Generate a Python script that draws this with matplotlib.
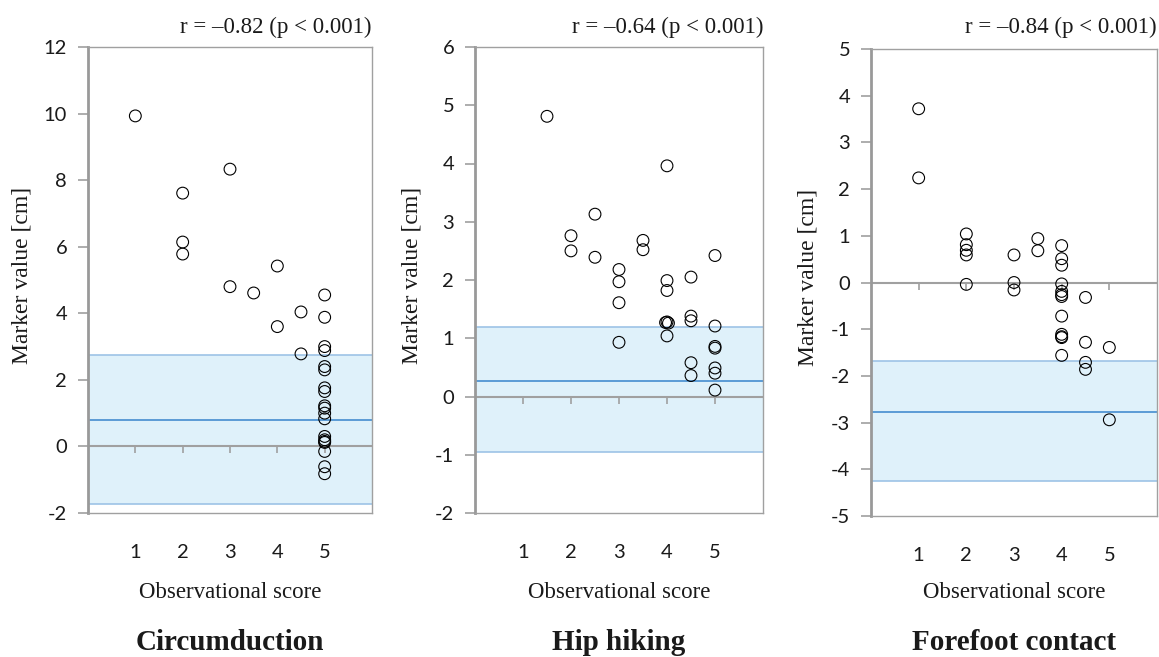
import matplotlib
matplotlib.use("Agg")
import matplotlib.pyplot as plt

# ---------------- data ----------------
titles = ["Circumduction", "Hip hiking", "Forefoot contact"]
r_texts = ["r = \u20130.82 (p < 0.001)", "r = \u20130.64 (p < 0.001)", "r = \u20130.84 (p < 0.001)"]

circ_x = [1, 2, 2, 2, 3, 3, 3.5, 4, 4, 4.5, 4.5,
          5, 5, 5, 5, 5, 5, 5, 5, 5, 5, 5, 5, 5, 5, 5, 5, 5, 5, 5]
circ_y = [9.93, 7.61, 6.14, 5.78, 8.33, 4.80, 4.61, 5.42, 3.60, 4.04, 2.78,
          4.55, 3.88, 3.00, 2.88, 2.40, 2.30, 1.76, 1.65, 1.22, 1.15, 1.00, 0.83,
          0.30, 0.20, 0.15, 0.12, -0.15, -0.61, -0.82]

hip_x = [1.5, 2, 2, 2.5, 2.5, 3, 3, 3, 3, 3.5, 3.5,
         4, 4, 4, 3.97, 4, 4.03, 4, 4.5, 4.5, 4.5, 4.5, 4.5,
         5, 5, 5, 5, 5, 5, 5]
hip_y = [4.81, 2.76, 2.50, 3.13, 2.39, 2.18, 1.97, 1.61, 0.93, 2.68, 2.52,
         3.96, 1.99, 1.82, 1.27, 1.28, 1.26, 1.04, 2.05, 1.38, 1.30, 0.58, 0.36,
         2.42, 1.21, 0.86, 0.83, 0.49, 0.40, 0.11]

fore_x = [1, 1, 2, 2, 2, 2, 2, 3, 3, 3, 3.5, 3.5,
          4, 4, 4, 4, 4, 4, 4, 4, 4, 4, 4, 4,
          4.5, 4.5, 4.5, 4.5, 5, 5]
fore_y = [3.72, 2.24, 1.04, 0.81, 0.69, 0.59, -0.04, 0.59, 0.00, -0.16, 0.94, 0.68,
          0.79, 0.51, 0.37, -0.03, -0.19, -0.26, -0.30, -0.72, -1.11, -1.16, -1.18, -1.56,
          -0.32, -1.28, -1.71, -1.86, -1.39, -2.94]

means = [0.78, 0.26, -2.78]
upper = [2.74, 1.20, -1.69]
lower = [-1.72, -0.96, -4.26]

y_limits = [(-2, 12), (-2, 6), (-5, 5)]
y_steps = [2, 1, 1]
x_ticks = [1, 2, 3, 4, 5]

xs = [circ_x, hip_x, fore_x]
ys = [circ_y, hip_y, fore_y]

# ---------------- style ----------------
SERIF = ["Liberation Serif", "DejaVu Serif"]
SANS = ["Lato", "DejaVu Sans"]
GRAY = "#a0a0a0"
FILL = "#dff1fa"
EDGE = "#9dc3e6"
MEAN = "#5b9bd5"
TXT = "#1a1a1a"

W, H = 1159, 657
fig = plt.figure(figsize=(W / 100, H / 100), dpi=100)

# axes boxes in pixels: left, right, top, bottom
boxes = [(88, 372, 47, 513), (475, 763, 47, 513), (871, 1157, 49, 516)]
ylabel_x = [-0.197, -0.184, -0.184]

for i in range(3):
    l, r, t, b = boxes[i]
    ax = fig.add_axes((l / W, 1 - b / H, (r - l) / W, (b - t) / H))
    y0, y1 = y_limits[i]
    ax.set_xlim(0, 6)
    ax.set_ylim(y0, y1)

    # band
    ax.axhspan(lower[i], upper[i], facecolor=FILL, edgecolor="none", zorder=0)
    ax.axhline(upper[i], color=EDGE, lw=1.2, zorder=1)
    ax.axhline(lower[i], color=EDGE, lw=1.2, zorder=1)
    ax.axhline(means[i], color=MEAN, lw=1.4, zorder=2)
    ax.axhline(0, color=GRAY, lw=1.5, zorder=2)

    ax.scatter(xs[i], ys[i], s=72, facecolors="none", edgecolors="black",
               linewidths=0.8, zorder=4)

    # spines
    for side in ["top", "right", "bottom"]:
        ax.spines[side].set_color(GRAY)
        ax.spines[side].set_linewidth(1.0)
    ax.spines["left"].set_color("#999999")
    ax.spines["left"].set_linewidth(2.0)

    # y ticks
    yt = list(range(y0, y1 + 1, y_steps[i]))
    ax.set_yticks(yt)
    ax.set_yticklabels([str(v) for v in yt], family=SANS, fontsize=14.5, color=TXT)
    ax.tick_params(axis="y", direction="out", length=7, width=1.2, color=GRAY, pad=8)

    # x tick labels below the plot (no tick marks there)
    ax.set_xticks(x_ticks)
    ax.set_xticklabels([str(v) for v in x_ticks], family=SANS, fontsize=14.5, color=TXT)
    ax.tick_params(axis="x", length=0, pad=22)

    # tick marks on the zero line
    zero_frac = (0 - y0) / (y1 - y0)
    sec = ax.secondary_xaxis(zero_frac)
    sec.set_xticks(x_ticks)
    sec.set_xticklabels([])
    sec.tick_params(axis="x", which="both", direction="out", length=5, width=1.2,
                    color=GRAY, labelbottom=False, labeltop=False,
                    bottom=True, top=False)
    for sp in sec.spines.values():
        sp.set_visible(False)

    ax.set_ylabel("Marker value [cm]", family=SERIF, fontsize=17, color=TXT)
    ax.yaxis.set_label_coords(ylabel_x[i], 0.51)

    xc = (l + r) / 2 / W
    fig.text(r / W, 1 - 27 / H, r_texts[i], ha="right", va="center",
             family=SERIF, fontsize=16.5, color=TXT)
    fig.text(xc, 1 - 593 / H, "Observational score", ha="center", va="center",
             family=SERIF, fontsize=16.5, color=TXT)
    fig.text(xc, 1 - 642 / H, titles[i], ha="center", va="center",
             family=SERIF, fontsize=21, fontweight="bold", color=TXT)

fig.savefig("out.png", dpi=100, facecolor="white")
